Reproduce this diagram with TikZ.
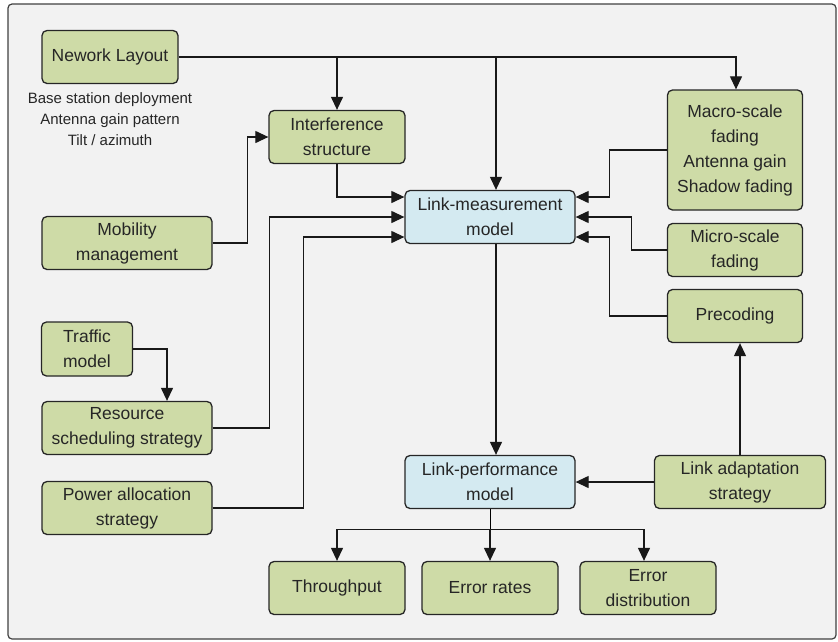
\documentclass[tikz,border=0pt]{standalone}
\usepackage{fontspec}
\setmainfont{Liberation Sans}
\usetikzlibrary{arrows.meta,calc,positioning}
\definecolor{boxgreen}{HTML}{CEDBA7}
\definecolor{boxblue}{HTML}{D4EAF1}
\definecolor{framegray}{HTML}{F2F2F2}

\begin{document}
\begin{tikzpicture}[x=1pt, y=-1pt,
            every node/.style = {font=\fontsize{17.5}{25}\selectfont, text=black!85},
            box/.style = {draw=black!85, line width=1.3pt, rounded corners=5pt, fill=boxgreen,
                          align=center, inner sep=0pt, minimum width=136pt, minimum height=53pt},
            model/.style = {box, fill=boxblue, minimum width=170pt},
            wide/.style = {minimum width=170pt},
            link/.style = {draw=black!90, line width=1.2pt, -{Triangle[width=12pt,length=13pt]}}
            ]
            \useasboundingbox (0,0) rectangle (838,641);
            \draw[draw=black!75, fill=framegray, line width=1.2pt, rounded corners=4pt] (8,4) rectangle (836,639);

            \node[box] (nl) at (110,57) {Nework Layout};
            \node[font=\fontsize{15}{21}\selectfont, align=center, below=5pt of nl] (nlnote)
                {Base station deployment\\Antenna gain pattern\\Tilt / azimuth};
            \node[box] (intf) at (337,137) {Interference\\structure};
            \node[box, wide] (mob) at (127,243) {Mobility\\management};
            \node[box, minimum width=91pt, minimum height=54pt] (traf) at (87,349) {Traffic\\model};
            \node[box, wide] (res) at (127,428) {Resource\\scheduling strategy};
            \node[box, wide] (pow) at (127,508) {Power allocation\\strategy};

            \node[model] (lmm) at (490,217) {Link-measurement\\model};
            \node[model] (lpm) at (490,482) {Link-performance\\model};

            \node[box, minimum width=135pt, minimum height=120pt] (macro) at (735,150)
                {Macro-scale\\fading\\Antenna gain\\Shadow fading};
            \node[box, minimum width=135pt] (micro) at (735,250) {Micro-scale\\fading};
            \node[box, minimum width=135pt] (prec) at (735,316) {Precoding};
            \node[box, minimum width=171pt] (la) at (740,482) {Link adaptation\\strategy};

            \node[box] (thr) at (337,588) {Throughput};
            \node[box] (err) at (490,588) {Error rates};
            \node[box] (errd) at (648,588) {Error\\distribution};

            \coordinate (lmmtop) at ([xshift=6pt]lmm.north);
            \coordinate (lmmbot) at ([xshift=6pt]lmm.south);

            % network layout feeds three blocks
            \draw[link] (nl.east) -| ([xshift=1pt]macro.north);
            \draw[link] (nl.east -| intf.north) -- (intf.north);
            \draw[link] (nl.east -| lmmtop) -- (lmmtop);

            % inputs of the link-measurement model
            \draw[link] (intf.south) |- ([yshift=20pt]lmm.west);
            \draw[link] (mob.east) -- ++(35,0) |- (intf.west);
            \draw[link] (res.east) -- ++(57,0) |- (lmm.west);
            \draw[link] (pow.east) -- ++(91,0) |- ([yshift=-20pt]lmm.west);
            \draw[link] (traf.east) -| ([xshift=40pt]res.north);
            \draw[link] (macro.west) -- ++(-57,0) |- ([yshift=20pt]lmm.east);
            \draw[link] (micro.west) -- ++(-35,0) |- (lmm.east);
            \draw[link] (prec.west) -- ++(-57,0) |- ([yshift=-20pt]lmm.east);

            % link-performance model and its outputs
            \draw[link] (lmmbot) -- (lmmbot |- lpm.north);
            \draw[link] (la.west) -- (lpm.east);
            \draw[link] (la.north) -- (la.north |- prec.south);
            \draw (lpm.south) -- ++(0,20) coordinate (split);
            \draw[link] (split) -| (thr.north);
            \draw[link] (split) -- (err.north);
            \draw[link] (split) -| ([xshift=-4pt]errd.north);
        \end{tikzpicture}
\end{document}
